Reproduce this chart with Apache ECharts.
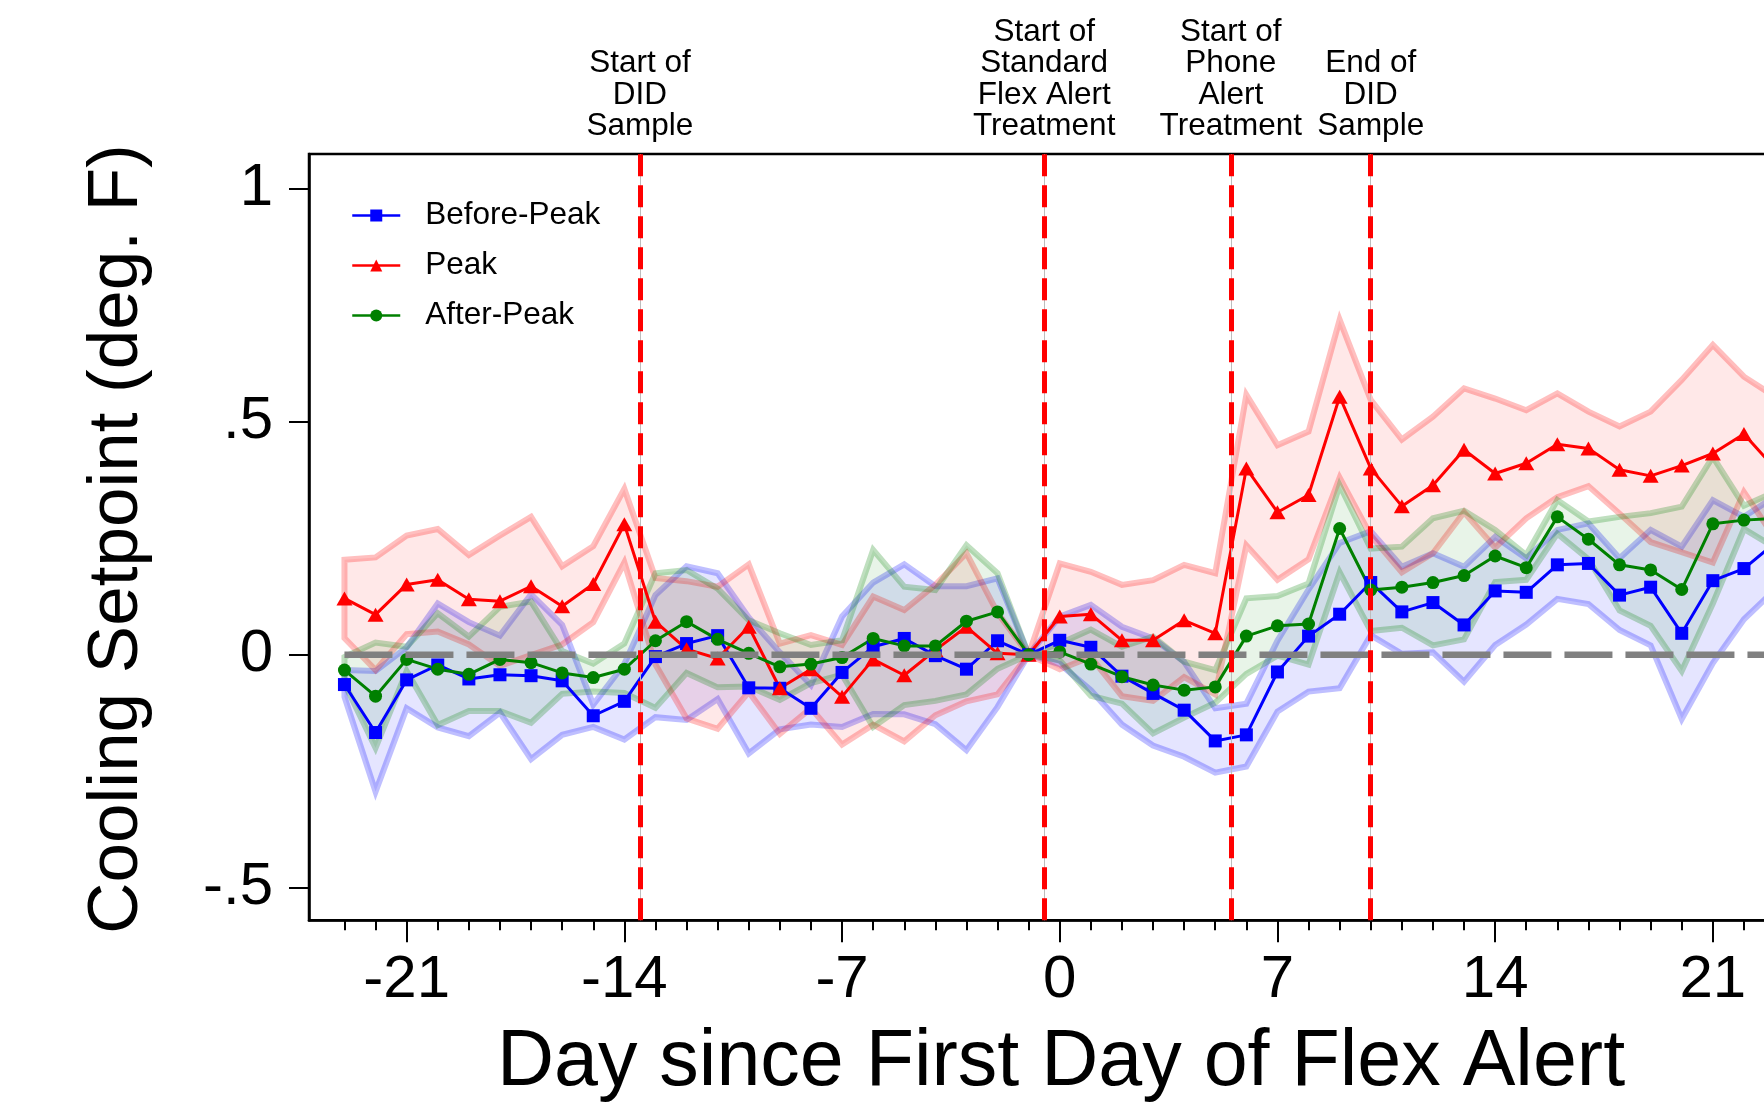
<!DOCTYPE html>
<html><head><meta charset="utf-8">
<script src="https://cdn.jsdelivr.net/npm/echarts@6/dist/echarts.min.js"></script>
<style>html,body{margin:0;padding:0;background:#fff}#c{width:1764px;height:1109px}</style>
</head><body><div id="c"></div>
<script>
const days = [-23,-22,-21,-20,-19,-18,-17,-16,-15,-14,-13,-12,-11,-10,-9,-8,-7,-6,-5,-4,-3,-2,-1,0,1,2,3,4,5,6,7,8,9,10,11,12,13,14,15,16,17,18,19,20,21,22,23];

const beforePeak = [-0.064,-0.167,-0.054,-0.022,-0.052,-0.043,-0.045,-0.056,-0.131,-0.100,-0.004,0.024,0.041,-0.071,-0.072,-0.115,-0.038,0.017,0.035,-0.002,-0.031,0.030,0,
  0.031,0.016,-0.046,-0.083,-0.119,-0.185,-0.172,-0.037,0.040,0.087,0.155,0.092,0.112,0.064,0.137,0.134,0.193,0.196,0.128,0.145,0.046,0.159,0.185,0.240];
const beforeHi = [-0.033,-0.035,0.016,0.110,0.070,0.041,0.130,0.064,-0.107,-0.020,0.128,0.190,0.175,0.080,0.005,-0.065,0.082,0.155,0.194,0.147,0.147,0.164,0,
  0.082,0.107,0.060,0.035,-0.015,-0.115,-0.105,0.030,0.140,0.240,0.265,0.189,0.218,0.189,0.253,0.207,0.268,0.282,0.207,0.268,0.232,0.332,0.296,0.340];
const beforeLo = [-0.090,-0.294,-0.115,-0.156,-0.175,-0.124,-0.224,-0.172,-0.155,-0.182,-0.134,-0.140,-0.095,-0.212,-0.160,-0.150,-0.155,-0.127,-0.128,-0.149,-0.205,-0.112,0,
  -0.020,-0.076,-0.150,-0.195,-0.219,-0.253,-0.240,-0.122,-0.079,-0.072,0.042,0.002,0.005,-0.058,0.021,0.065,0.120,0.109,0.053,0.020,-0.138,-0.018,0.076,0.140];

const peak = [0.121,0.086,0.151,0.161,0.119,0.115,0.147,0.104,0.152,0.280,0.071,0.012,-0.008,0.060,-0.072,-0.031,-0.090,-0.010,-0.044,0.010,0.060,0.003,0,
  0.082,0.087,0.031,0.031,0.074,0.046,0.400,0.306,0.343,0.554,0.400,0.319,0.364,0.440,0.389,0.411,0.452,0.443,0.397,0.384,0.406,0.432,0.474,0.400];
const peakHi = [0.204,0.209,0.256,0.270,0.214,0.256,0.296,0.190,0.233,0.356,0.165,0.158,0.146,0.194,0.024,0.042,0.021,0.125,0.096,0.150,0.218,0.090,0,
  0.196,0.178,0.150,0.160,0.193,0.175,0.558,0.450,0.479,0.719,0.547,0.462,0.511,0.572,0.550,0.525,0.561,0.522,0.490,0.522,0.590,0.665,0.597,0.554];
const peakLo = [0.036,-0.033,0.044,0.050,0.022,-0.024,-0.001,0.022,0.070,0.198,-0.021,-0.137,-0.159,-0.080,-0.170,-0.115,-0.193,-0.150,-0.186,-0.130,-0.100,-0.085,0,
  -0.031,-0.005,-0.089,-0.099,-0.048,-0.085,0.235,0.161,0.205,0.380,0.256,0.177,0.218,0.306,0.230,0.293,0.338,0.362,0.303,0.242,0.220,0.198,0.349,0.250];

const afterPeak = [-0.033,-0.089,-0.010,-0.031,-0.042,-0.010,-0.017,-0.039,-0.049,-0.031,0.030,0.071,0.033,0.003,-0.026,-0.020,-0.006,0.035,0.019,0.019,0.072,0.092,0,
  0.006,-0.020,-0.047,-0.065,-0.076,-0.069,0.040,0.062,0.066,0.271,0.139,0.145,0.155,0.170,0.212,0.187,0.296,0.248,0.193,0.182,0.140,0.281,0.289,0.293];
const afterHi = [-0.005,0.026,0.017,0.089,0.039,0.103,0.114,0.008,-0.019,0.024,0.175,0.182,0.142,0.074,0.046,0.021,0.031,0.225,0.146,0.139,0.235,0.175,0,
  0.024,0.054,0.017,0.039,-0.015,-0.033,0.121,0.126,0.153,0.364,0.228,0.232,0.293,0.309,0.268,0.214,0.332,0.286,0.296,0.304,0.318,0.425,0.320,0.350];
const afterLo = [-0.062,-0.200,-0.035,-0.151,-0.121,-0.121,-0.146,-0.084,-0.079,-0.082,-0.114,-0.039,-0.070,-0.068,-0.097,-0.061,-0.043,-0.155,-0.108,-0.099,-0.085,-0.030,0,
  -0.012,-0.088,-0.105,-0.169,-0.135,-0.103,-0.041,-0.002,-0.021,0.177,0.051,0.058,0.020,0.033,0.156,0.161,0.260,0.205,0.095,0.062,-0.035,0.110,0.270,0.230];

const xTickValues = [-21,-14,-7,0,7,14,21];
const yTickValues = [-0.5,0,0.5,1];
const yTickLabels = ['-.5','0','.5','1'];
const eventDays = [-13.5,-0.5,5.5,10];
const eventLabels = ['Start of\nDID\nSample','Start of\nStandard\nFlex Alert\nTreatment','Start of\nPhone\nAlert\nTreatment','End of\nDID\nSample'];
const seriesNames = ['Before-Peak','Peak','After-Peak'];

const FONT = '"Liberation Sans", Arial, Helvetica, sans-serif';
const xMin = -24.14, xMax = 24.14, yMin = -0.57, yMax = 1.075;

function band(lo, hi, fill, stroke) {
  return {
    type: 'custom', silent: true, clip: true, z: 1,
    data: days.map((d, i) => [d, lo[i], hi[i]]),
    encode: { x: 0, y: [1, 2] },
    renderItem(params, api) {
      if (params.dataIndexInside !== 0) return null;
      const n = days.length, pts = [];
      for (let i = 0; i < n; i++) pts.push(api.coord([api.value(0, i), api.value(2, i)]));
      for (let i = n - 1; i >= 0; i--) pts.push(api.coord([api.value(0, i), api.value(1, i)]));
      return { type: 'polygon', shape: { points: pts }, style: { fill: fill, stroke: stroke, lineWidth: 6, lineJoin: 'miter' } };
    }
  };
}

function lineSeries(name, vals, color, symbol, size) {
  return {
    type: 'line', name: name, z: 3,
    data: days.map((d, i) => [d, vals[i]]),
    symbol: symbol, symbolSize: size, showSymbol: true,
    lineStyle: { color: color, width: 3 },
    itemStyle: { color: color },
    emphasis: { disabled: true }
  };
}

const chart = echarts.init(document.getElementById('c'), null, { renderer: 'canvas' });
chart.setOption({
  animation: false,
  backgroundColor: '#fff',
  grid: { left: 309, top: 154, right: -46.5, bottom: 188.75, outerBoundsMode: 'none', containLabel: false,
          show: true, borderColor: '#000', borderWidth: 2.5, backgroundColor: 'transparent' },
  legend: {
    data: seriesNames, orient: 'vertical', left: 346, top: 192.5,
    itemWidth: 48, itemHeight: 15, itemGap: 14,
    lineStyle: { width: 2.5 },
    textStyle: { fontSize: 31.5, fontFamily: FONT, color: '#000', lineHeight: 36, padding: [0, 0, 0, 20] }
  },
  xAxis: [
    {
      type: 'value', min: xMin, max: xMax, position: 'bottom',
      axisLine: { show: true, onZero: false, lineStyle: { color: '#000', width: 2.5 } },
      axisTick: { show: true, customValues: xTickValues, length: 22, lineStyle: { color: '#000', width: 2 } },
      axisLabel: { customValues: xTickValues, fontSize: 60, fontFamily: FONT, color: '#000', margin: 30.5, formatter: v => String(v) },
      splitLine: { show: false }
    },
    {
      type: 'value', min: xMin, max: xMax, position: 'bottom',
      axisLine: { show: false, onZero: false },
      axisTick: { show: true, customValues: days, length: 10, lineStyle: { color: '#000', width: 2 } },
      axisLabel: { show: false }, splitLine: { show: false }
    }
  ],
  yAxis: {
    type: 'value', min: yMin, max: yMax,
    axisLine: { show: true, onZero: false, lineStyle: { color: '#000', width: 2.5 } },
    axisTick: { show: true, customValues: yTickValues, length: 20, lineStyle: { color: '#000', width: 2 } },
    axisLabel: {
      customValues: yTickValues, fontSize: 60, fontFamily: FONT, color: '#000', margin: 36,
      formatter: v => { const i = yTickValues.findIndex(t => Math.abs(t - v) < 1e-9); return i >= 0 ? yTickLabels[i] : ''; }
    },
    splitLine: { show: false }
  },
  graphic: [
    { type: 'text', x: 117, y: 539, rotation: Math.PI / 2, silent: true,
      style: { text: 'Cooling Setpoint (deg. F)', font: '71px ' + FONT, fill: '#000', align: 'center', verticalAlign: 'middle', textAlign: 'center', textVerticalAlign: 'middle' } },
    { type: 'text', x: 1061, y: 1063, silent: true,
      style: { text: 'Day since First Day of Flex Alert', font: '79px ' + FONT, fill: '#000', align: 'center', verticalAlign: 'middle', textAlign: 'center', textVerticalAlign: 'middle' } }
  ],
  series: [
    band(beforeLo, beforeHi, 'rgba(0,0,255,0.10)', 'rgba(0,0,255,0.25)'),
    band(peakLo, peakHi, 'rgba(255,0,0,0.09)', 'rgba(255,0,0,0.25)'),
    band(afterLo, afterHi, 'rgba(0,128,0,0.09)', 'rgba(0,128,0,0.25)'),
    lineSeries(seriesNames[0], beforePeak, '#0000ff', 'rect', 13),
    lineSeries(seriesNames[1], peak, '#ff0000', 'triangle', [16, 14]),
    lineSeries(seriesNames[2], afterPeak, '#008000', 'circle', 13),
    {
      type: 'line', z: 4, silent: true, symbol: 'none',
      data: [[days[0], 0], [xMax, 0]],
      lineStyle: { color: '#808080', width: 6.5, type: [48, 13] }
    },
    {
      type: 'line', z: 5, silent: true, data: [],
      markLine: {
        silent: true, symbol: 'none', animation: false,
        lineStyle: { color: '#bdbdbd', width: 1, type: 'solid' },
        label: { show: false },
        data: eventDays.map(d => ({ xAxis: d }))
      }
    },
    {
      type: 'line', z: 6, silent: true, data: [],
      markLine: {
        silent: true, symbol: 'none', animation: false,
        lineStyle: { color: '#ff0000', width: 5, type: [22, 9] },
        label: { show: true, position: 'end', distance: 11.5, fontSize: 31.5, lineHeight: 31.6, fontFamily: FONT, color: '#000' },
        emphasis: { disabled: true },
        data: eventDays.map((d, i) => ({ xAxis: d, label: { formatter: eventLabels[i] } }))
      }
    }
  ]
});
</script>
</body></html>
